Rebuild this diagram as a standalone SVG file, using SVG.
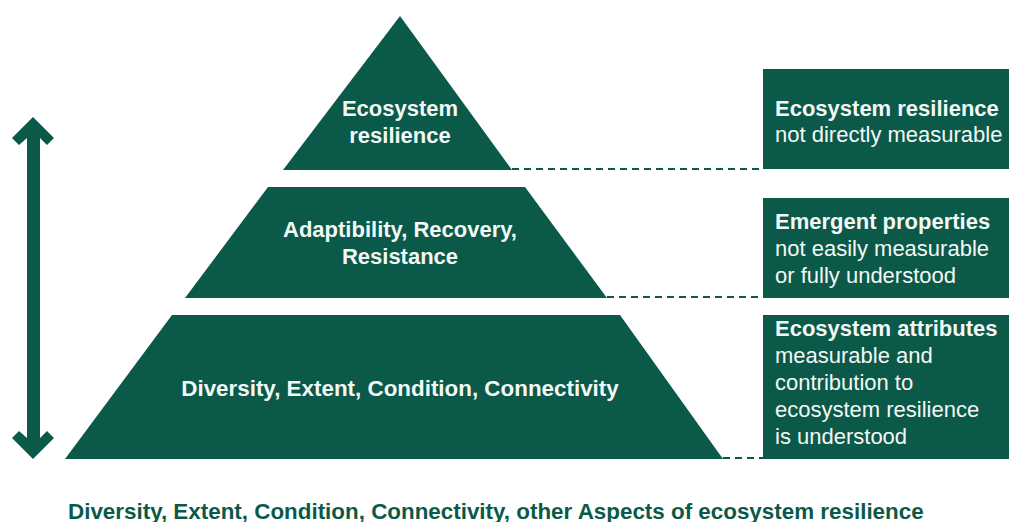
<svg xmlns="http://www.w3.org/2000/svg" width="1009" height="522" viewBox="0 0 1009 522">
<style>
.g{fill:#0b5948}
.t{font-family:"Liberation Sans",Arial,sans-serif;fill:#f3f8f6;font-size:22px}
.b{font-weight:bold}
.c{text-anchor:middle}
.d{stroke:#0b5948;stroke-width:2;stroke-dasharray:7,5;fill:none}
</style>
<rect width="1009" height="522" fill="#fff"/>
<g id="arrow">
<polygon class="g" points="33,117 54,138 47,145 40,138 40,438 47,431 54,438 33,459 12,438 19,431 27,438 27,138 19,145 12,138"/>
</g>
<g id="level1">
<polygon class="g" points="400,16 512,170 283,170"/>
<text class="t b c" x="400" y="116">Ecosystem</text>
<text class="t b c" x="400" y="143">resilience</text>
</g>
<g id="level2">
<polygon class="g" points="268,187 525,187 607,298 185,298"/>
<text class="t b c" x="400" y="237">Adaptibility, Recovery,</text>
<text class="t b c" x="400" y="264">Resistance</text>
</g>
<g id="level3">
<polygon class="g" points="172,315 620,315 723,459 65,459"/>
<text class="t b c" x="400" y="396" style="font-size:22.4px">Diversity, Extent, Condition, Connectivity</text>
</g>
<g id="box1">
<rect class="g" x="763" y="69" width="246" height="100"/>
<text class="t b" x="775" y="116">Ecosystem resilience</text>
<text class="t" x="775" y="142">not directly measurable</text>
</g>
<g id="box2">
<rect class="g" x="763" y="198" width="246" height="100"/>
<text class="t b" x="775" y="229">Emergent properties</text>
<text class="t" x="775" y="256">not easily measurable</text>
<text class="t" x="775" y="283">or fully understood</text>
</g>
<g id="box3">
<rect class="g" x="763" y="315" width="246" height="144"/>
<text class="t b" x="775" y="336">Ecosystem attributes</text>
<text class="t" x="775" y="363">measurable and</text>
<text class="t" x="775" y="390">contribution to</text>
<text class="t" x="775" y="417">ecosystem resilience</text>
<text class="t" x="775" y="444">is understood</text>
</g>
<g id="connectors">
<line class="d" x1="512" y1="169" x2="763" y2="169"/>
<line class="d" x1="607" y1="297" x2="763" y2="297"/>
<line class="d" x1="723" y1="458" x2="763" y2="458"/>
</g>
<text x="68" y="519" style="font-family:'Liberation Sans',Arial,sans-serif;font-size:22.4px;font-weight:bold;fill:#0b5948">Diversity, Extent, Condition, Connectivity, other Aspects of ecosystem resilience</text>
</svg>
